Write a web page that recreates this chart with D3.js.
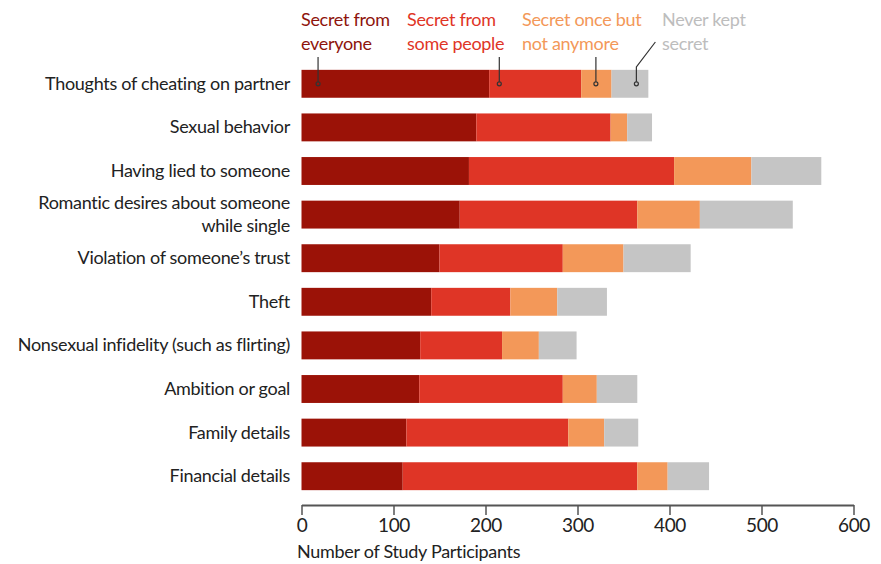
<!DOCTYPE html>
<html>
<head>
<meta charset="utf-8">
<style>
  body { margin: 0; background: #fff; }
  text { font-family: Lato, "Open Sans", sans-serif; letter-spacing: -0.3px; }
</style>
<script src="https://d3js.org/d3.v7.min.js"></script>
</head>
<body>
<svg id="chart" width="881" height="564"></svg>
<script>
// categories, top to bottom
var categories = [
  "Thoughts of cheating on partner",
  "Sexual behavior",
  "Having lied to someone",
  "Romantic desires about someone|while single",
  "Violation of someone\u2019s trust",
  "Theft",
  "Nonsexual infidelity (such as flirting)",
  "Ambition or goal",
  "Family details",
  "Financial details"
];

// series values (participants)
var secretEveryone = [204, 190, 182, 172, 150, 141, 129, 128, 114, 110];
var secretSome     = [100, 146, 223, 193, 134,  86,  89, 156, 176, 255];
var secretOnce     = [ 33,  18,  84,  68,  66,  51,  40,  37,  39,  33];
var neverKept      = [ 40,  27,  76, 101,  73,  54,  41,  44,  37,  45];

var seriesKeys = ["everyone", "some", "once", "never"];
var seriesLabels = [["Secret from", "everyone"], ["Secret from", "some people"],
                    ["Secret once but", "not anymore"], ["Never kept", "secret"]];
var colors = ["#9b1207", "#df3526", "#f39859", "#c5c5c5"];
var textColors = ["#8e140c", "#df3526", "#f39859", "#bdbdbd"];
var tickValues = [0, 100, 200, 300, 400, 500, 600];
// where each legend pointer lands on the first bar (data units)
var pointerAt = [18, 215, 320, 364];

var svg = d3.select("#chart");

var x = d3.scaleLinear().domain([0, 600]).range([301.5, 853.5]);
var y = d3.scaleBand().domain(categories).range([62, 498]).paddingInner(0.36).paddingOuter(0.18);

var rows = categories.map(function(c, i) {
  return { cat: c, everyone: secretEveryone[i], some: secretSome[i], once: secretOnce[i], never: neverKept[i] };
});
var stacked = d3.stack().keys(seriesKeys)(rows);

// bars
svg.append("g")
  .selectAll("g")
  .data(stacked)
  .enter().append("g")
    .attr("fill", function(d, i) { return colors[i]; })
  .selectAll("rect")
  .data(function(d) { return d; })
  .enter().append("rect")
    .attr("x", function(d) { return x(d[0]); })
    .attr("width", function(d) { return x(d[1]) - x(d[0]); })
    .attr("y", function(d) { return y(d.data.cat); })
    .attr("height", y.bandwidth());

// category labels
var labels = svg.append("g").selectAll("text")
  .data(categories)
  .enter().append("text")
    .attr("x", 290)
    .attr("text-anchor", "end")
    .attr("fill", "#222")
    .style("font-size", "18px");
labels.each(function(c) {
  var parts = c.split("|");
  var cy = y(c) + y.bandwidth() / 2;
  var el = d3.select(this);
  parts.forEach(function(p, j) {
    el.append("tspan")
      .attr("x", 290)
      .attr("y", cy + 6 + (j - (parts.length - 1) / 2) * 23)
      .text(p);
  });
});

// legend labels
var legendX = [301, 407, 522, 662];
seriesLabels.forEach(function(lines, i) {
  var t = svg.append("text")
    .attr("fill", textColors[i])
    .style("font-size", "18px");
  lines.forEach(function(l, j) {
    t.append("tspan").attr("x", legendX[i]).attr("y", 26 + j * 24).text(l);
  });
});

// legend pointers
var firstBarY = y(categories[0]) + y.bandwidth() / 2;
var ptr = svg.append("g").attr("stroke", "#333").attr("stroke-width", 1.2).attr("fill", "none");
pointerAt.forEach(function(v, i) {
  var px = x(v);
  if (i === 3) {
    ptr.append("path").attr("d", "M" + (px + 19) + ",42L" + px + ",67L" + px + "," + (firstBarY - 2));
  } else {
    ptr.append("line").attr("x1", px).attr("x2", px).attr("y1", 57).attr("y2", firstBarY - 2);
  }
  ptr.append("circle").attr("cx", px).attr("cy", firstBarY).attr("r", 2);
});

// x axis
var axis = svg.append("g")
  .attr("transform", "translate(0,505)")
  .call(d3.axisBottom(x).tickValues(tickValues).tickSize(10).tickPadding(4).tickSizeOuter(0));
axis.select(".domain").attr("stroke", "#555").attr("stroke-width", 2);
axis.selectAll(".tick line").attr("stroke", "#555").attr("stroke-width", 1.5);
axis.selectAll(".tick text")
  .attr("fill", "#222")
  .style("font-size", "19px")
  .style("font-family", "Lato, sans-serif");

svg.append("text")
  .attr("x", 297)
  .attr("y", 558)
  .attr("fill", "#222")
  .style("font-size", "18px")
  .text("Number of Study Participants");
</script>
</body>
</html>
